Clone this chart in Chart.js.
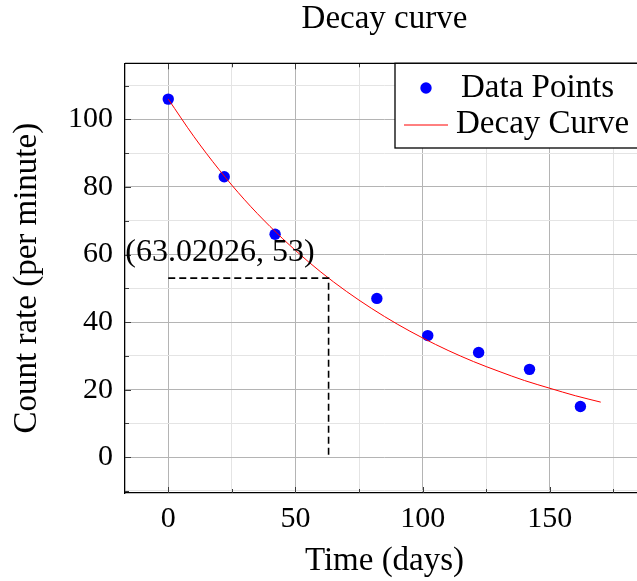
<!DOCTYPE html>
<html>
<head>
<meta charset="utf-8">
<title>Decay curve</title>
<script src="https://cdn.jsdelivr.net/npm/chart.js"></script>
<style>
  html, body { margin: 0; padding: 0; background: #fff; overflow: hidden; }
  canvas { display: block; }
</style>
</head>
<body>
<canvas id="decayChart" width="680" height="581"></canvas>
<script>
// measured count rates
const timeDays = [0, 22, 42, 82, 102, 122, 142, 162];
const countRate = [106, 83, 66, 47, 36, 31, 26, 15];

// red fitted curve, every 10 days
const curveDays = [0, 10, 20, 30, 40, 50, 60, 70, 80, 90, 100, 110, 120, 130, 140, 150, 160, 170];
const curveRate = [106, 95.0, 85.1, 76.2, 68.3, 61.2, 54.8, 49.1, 44.0, 39.4, 35.3, 31.6, 28.3, 25.4, 22.7, 20.4, 18.2, 16.3];

// dashed half-life marker
const halfLifeDays = [0, 63.02026, 63.02026];
const halfLifeRate = [53, 53, 0];
const halfLifeLabel = '(63.02026, 53)';

// axis ticks
const xMajorTicks = [0, 50, 100, 150];
const xMinorTicks = [25, 75, 125, 175];
const yMajorTicks = [0, 20, 40, 60, 80, 100];
const yMinorTicks = [-10, 10, 30, 50, 70, 90, 110];

const legendLabels = ['Data Points', 'Decay Curve'];

const SERIF = '"Liberation Serif", "Times New Roman", serif';
const TEXT_SIZE = 33;
Chart.defaults.font.family = SERIF;
Chart.defaults.color = '#000';

function toXY(xs, ys) {
    return xs.map((x, i) => ({ x: x, y: ys[i] }));
}

const allX = xMajorTicks.concat(xMinorTicks).sort((a, b) => a - b);
const allY = yMajorTicks.concat(yMinorTicks).sort((a, b) => a - b);

function gridColor(majors) {
    return (ctx) => majors.includes(ctx.tick.value) ? '#b4b4b4' : '#e4e4e4';
}

// draws the top border, inner tick marks, the point label and the legend
const pgfExtras = {
    id: 'pgfExtras',
    beforeDatasetsDraw(chart) {
        const { ctx, chartArea: a, scales } = chart;
        ctx.save();
        ctx.strokeStyle = '#3a3a3a';
        ctx.lineWidth = 1;
        ctx.beginPath();
        allX.forEach(v => {
            const px = Math.round(scales.x.getPixelForValue(v)) + 0.5;
            const len = xMajorTicks.includes(v) ? 6 : 4;
            ctx.moveTo(px, a.bottom); ctx.lineTo(px, a.bottom - len);
            ctx.moveTo(px, a.top); ctx.lineTo(px, a.top + len);
        });
        allY.forEach(v => {
            const py = Math.round(scales.y.getPixelForValue(v)) + 0.5;
            const len = yMajorTicks.includes(v) ? 6 : 4;
            ctx.moveTo(a.left, py); ctx.lineTo(a.left + len, py);
        });
        ctx.stroke();
        ctx.restore();
    },
    afterDraw(chart) {
        const { ctx, chartArea: a, scales } = chart;
        ctx.save();

        // top border of the axis box
        ctx.strokeStyle = '#000';
        ctx.lineWidth = 1.3;
        ctx.beginPath();
        ctx.moveTo(a.left, a.top);
        ctx.lineTo(a.right, a.top);
        ctx.stroke();

        // label of the half-life point
        const px = scales.x.getPixelForValue(halfLifeDays[1]);
        const py = scales.y.getPixelForValue(halfLifeRate[1]);
        ctx.font = '32px ' + SERIF;
        ctx.fillStyle = '#000';
        ctx.textAlign = 'right';
        ctx.textBaseline = 'alphabetic';
        ctx.fillText(halfLifeLabel, px - 14, py - 17);

        // legend box in the upper right corner
        const boxLeft = 395, boxTop = a.top, boxBottom = 148;
        ctx.fillStyle = '#fff';
        ctx.fillRect(boxLeft, boxTop, 400, boxBottom - boxTop);
        ctx.strokeStyle = '#000';
        ctx.lineWidth = 1.3;
        ctx.strokeRect(boxLeft, boxTop, 400, boxBottom - boxTop);

        ctx.fillStyle = '#0000ff';
        ctx.beginPath();
        ctx.arc(426, 88, 5.7, 0, Math.PI * 2);
        ctx.fill();

        ctx.strokeStyle = '#ff0000';
        ctx.lineWidth = 1;
        ctx.beginPath();
        ctx.moveTo(404, 125);
        ctx.lineTo(448, 125);
        ctx.stroke();

        ctx.fillStyle = '#000';
        ctx.font = TEXT_SIZE + 'px ' + SERIF;
        ctx.textAlign = 'left';
        ctx.fillText(legendLabels[0], 461, 97);
        ctx.fillText(legendLabels[1], 456, 133);
        ctx.restore();
    }
};

new Chart(document.getElementById('decayChart'), {
    type: 'scatter',
    data: {
        datasets: [
            {
                label: 'Half life',
                data: toXY(halfLifeDays, halfLifeRate),
                showLine: true,
                borderColor: '#000',
                borderWidth: 1.6,
                borderDash: [7, 4],
                pointRadius: 0,
                fill: false
            },
            {
                label: legendLabels[1],
                data: toXY(curveDays, curveRate),
                showLine: true,
                borderColor: '#ff0000',
                borderWidth: 1,
                pointRadius: 0,
                cubicInterpolationMode: 'monotone',
                fill: false
            },
            {
                label: legendLabels[0],
                data: toXY(timeDays, countRate),
                backgroundColor: '#0000ff',
                borderWidth: 0,
                pointRadius: 5.7,
                pointHoverRadius: 5.7
            }
        ]
    },
    options: {
        responsive: false,
        animation: false,
        layout: { padding: { left: 0, top: 0, right: 36, bottom: 0 } },
        plugins: {
            legend: { display: false },
            tooltip: { enabled: false },
            title: {
                display: true,
                text: 'Decay curve',
                fullSize: false,
                font: { size: TEXT_SIZE, weight: 'normal', lineHeight: 1.2 },
                padding: { top: 0, bottom: 23.7 }
            }
        },
        scales: {
            x: {
                type: 'linear',
                min: -17,
                max: 187,
                afterBuildTicks: (axis) => { axis.ticks = allX.map(v => ({ value: v })); },
                afterFit: (axis) => { axis.height = 88; },
                ticks: {
                    font: { size: 30 },
                    padding: 8,
                    maxRotation: 0,
                    autoSkip: false,
                    callback: (v) => xMajorTicks.includes(v) ? String(v) : ''
                },
                grid: { color: gridColor(xMajorTicks), drawTicks: false, lineWidth: 1 },
                border: { display: true, color: '#000', width: 1.3 },
                title: {
                    display: true,
                    text: 'Time (days)',
                    font: { size: TEXT_SIZE, lineHeight: 1.2 },
                    padding: { top: 0, bottom: 0 }
                }
            },
            y: {
                type: 'linear',
                min: -10.6,
                max: 116.6,
                afterBuildTicks: (axis) => { axis.ticks = allY.map(v => ({ value: v })); },
                afterFit: (axis) => { axis.width = 125; },
                ticks: {
                    font: { size: 30 },
                    padding: 12,
                    autoSkip: false,
                    callback: (v) => yMajorTicks.includes(v) ? String(v) : ''
                },
                grid: { color: gridColor(yMajorTicks), drawTicks: false, lineWidth: 1 },
                border: { display: true, color: '#000', width: 1.3 },
                title: {
                    display: true,
                    text: 'Count rate (per minute)',
                    font: { size: TEXT_SIZE, lineHeight: 1.2 },
                    padding: { top: 8, bottom: 0 }
                }
            }
        }
    },
    plugins: [pgfExtras]
});
</script>
</body>
</html>
